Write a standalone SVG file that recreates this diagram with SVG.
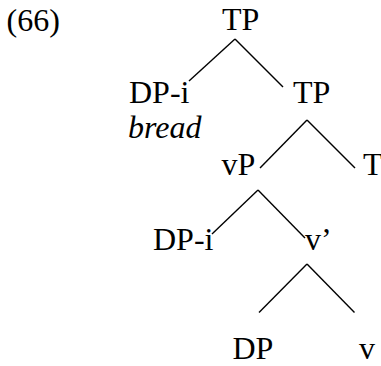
<svg xmlns="http://www.w3.org/2000/svg" width="381" height="366" viewBox="0 0 381 366">
<style>
.edges line{stroke:#000;stroke-width:1.4;stroke-linecap:butt}
</style>
<rect width="381" height="366" fill="#fff"/>
<g font-family="Liberation Serif, Times New Roman, serif" font-size="32" fill="#000">
<g id="label66"><text x="6.5" y="31">(66)</text></g>
<g id="tp1"><text x="222" y="30">TP</text></g>
<g id="dpi1"><text x="129" y="103">DP-i</text><text font-style="italic" x="128" y="138">bread</text></g>
<g id="tp2"><text x="293" y="103">TP</text></g>
<g id="t"><text x="363" y="175">T</text></g>
<g id="vp"><text x="221.5" y="175">vP</text></g>
<g id="dpi2"><text x="153" y="250">DP-i</text></g>
<g id="vbar"><text x="305" y="250">v’</text></g>
<g id="dp"><text x="232.5" y="358.5">DP</text></g>
<g id="v"><text x="359" y="358.5">v</text></g>
</g>
<g class="edges" id="connectors">
<line x1="235" y1="39" x2="189" y2="81"/>
<line x1="235" y1="39" x2="283" y2="87"/>
<line x1="307" y1="120" x2="260" y2="168"/>
<line x1="307" y1="120" x2="355" y2="168"/>
<line x1="258" y1="190" x2="212" y2="234"/>
<line x1="258" y1="190" x2="305" y2="238"/>
<line x1="307" y1="264" x2="259" y2="312.5"/>
<line x1="307" y1="264" x2="354.5" y2="312.5"/>
</g>
</svg>
